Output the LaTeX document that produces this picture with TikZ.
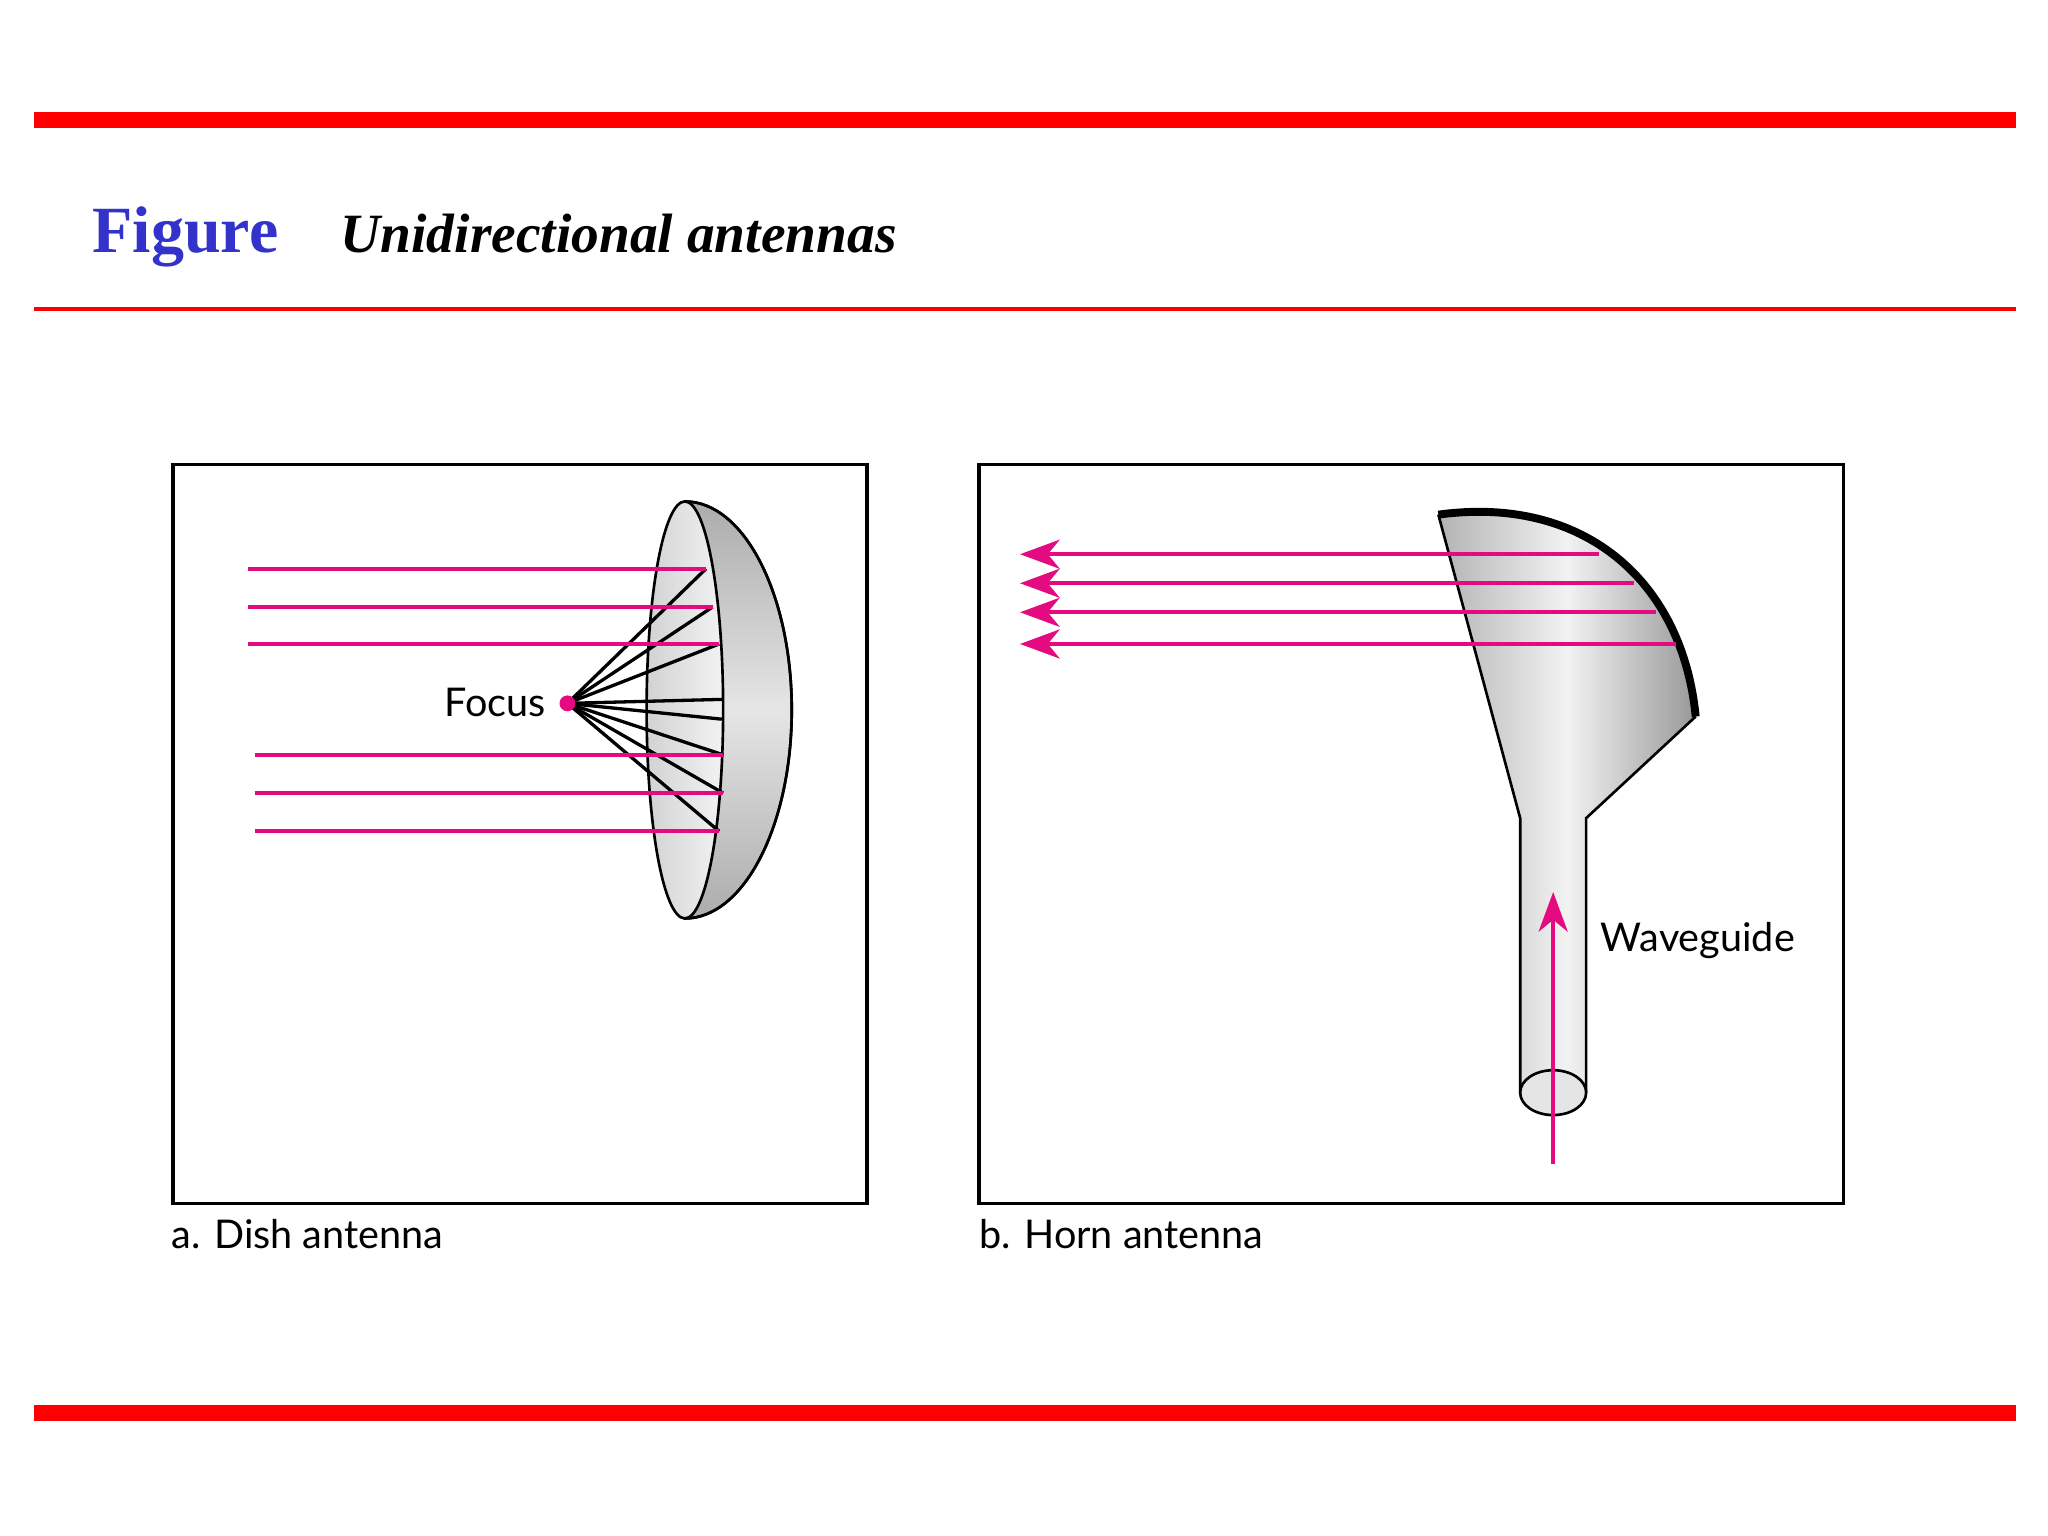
\documentclass[tikz,border=0pt]{standalone}
\usepackage{fontspec}
\setmainfont{Liberation Serif}
\newfontfamily\lab{Lato}
\usetikzlibrary{arrows.meta}
\definecolor{mag}{RGB}{228,10,128}
\definecolor{figblue}{RGB}{51,51,204}
\begin{document}
\begin{tikzpicture}[x=1pt,y=-1pt,
  ray/.style={draw=mag,line width=3pt},
  blk/.style={draw=black,line width=2pt},
  labtxt/.style={font=\lab\fontsize{30}{32}\selectfont,inner sep=0pt},
  larr/.style={ray,-{Stealth[length=30pt,width=22pt,inset=9pt]}}]
\useasboundingbox (0,0) rectangle (1552,1164);
\fill[white] (0,0) rectangle (1552,1164);
% bars
\fill[red] (26,85) rectangle (1528,97);
\fill[red] (26,233) rectangle (1528,236);
\fill[red] (26,1065) rectangle (1528,1077);
\node[anchor=base west,inner sep=0pt,text=figblue,font=\bfseries\fontsize{50}{52}\selectfont] (fig) at (70,191) {Figure};
\node[anchor=base west,inner sep=0pt,font=\bfseries\itshape\fontsize{42}{44}\selectfont] (ttl) at (258,191) {Unidirectional antennas};
% frames
\draw[line width=2.5pt] (131,352) rectangle (657,912);
\draw[line width=2.5pt] (742,352) rectangle (1397,912);
\node[labtxt,anchor=west] (la) at (130,935) {a. Dish antenna};
\node[labtxt,anchor=west] (lb) at (742,935) {b. Horn antenna};
% dish
\shade[blk,top color=gray!65,bottom color=gray!65,middle color=gray!20]
  (519,380) .. controls (564,380) and (600,451) .. (600,538) .. controls (600,625) and (564,696) .. (519,696) -- cycle;
\draw[blk] (519,380) .. controls (564,380) and (600,451) .. (600,538) .. controls (600,625) and (564,696) .. (519,696);
\shade[left color=gray!35,right color=gray!10] (519,538) ellipse[x radius=29,y radius=158];
\draw[blk] (519,538) ellipse[x radius=29,y radius=158];
\coordinate (F) at (430,533);
\foreach \x/\y in {535/431,540/460,545/488,547/530,547/545,548/572,548/601,545/630}{
  \draw[black,line width=2.5pt] (F) -- (\x,\y);}
\foreach \xa/\x/\y in {188/535/431,188/540/460,188/545/488,193/548/572,193/548/601,193/545/630}{
  \draw[ray] (\xa,\y) -- (\x,\y);}
\fill[mag] (F) circle (6);
\node[labtxt,anchor=east] (fl) at (414,532) {Focus};
% horn
\shade[left color=gray!60,right color=gray!80,middle color=gray!10]
  (1090,390) .. controls (1200,375) and (1275,440) .. (1285,543) -- (1202,620) -- (1202,828) -- (1152,828) -- (1152,620) -- cycle;
\draw[line width=2pt] (1285,543) -- (1202,620) -- (1202,828);
\draw[line width=2pt] (1090,390) -- (1152,620) -- (1152,828);
\draw[line width=2pt,fill=gray!20] (1177,828) ellipse[x radius=25,y radius=17];
\draw[line width=6pt] (1090,390) .. controls (1200,375) and (1275,440) .. (1285,543);
\foreach \x/\y in {1212/420,1238/442,1255/464,1270/488}{
  \draw[larr] (\x,\y) -- (773,\y);}
\draw[larr] (1177,882) -- (1177,676);
\node[labtxt,anchor=west] (wg) at (1213,713) {Waveguide};
\end{tikzpicture}
\end{document}
